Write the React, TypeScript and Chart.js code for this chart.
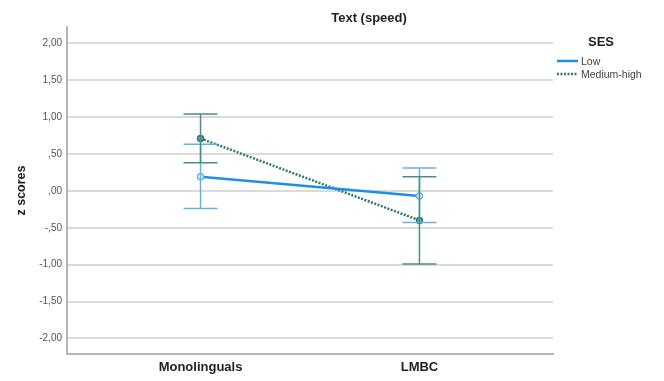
import React, { useEffect, useRef } from "react";
import { Chart, registerables } from "chart.js";

Chart.register(...registerables);

// Group means and 95% CI bounds (z scores)
const groups = ["Monolinguals", "LMBC"];
const groupPos = [1, 2];
const lowMean = [0.19, -0.07];
const lowUpper = [0.63, 0.31];
const lowLower = [-0.24, -0.43];
const highMean = [0.71, -0.4];
const highUpper = [1.04, 0.19];
const highLower = [0.38, -0.99];

const yTickValues = [2, 1.5, 1, 0.5, 0, -0.5, -1, -1.5, -2];
const yTickLabels = ["2,00", "1,50", "1,00", ",50", ",00", "-,50", "-1,00", "-1,50", "-2,00"];

const chartTitle = "Text (speed)";
const yTitle = "z scores";
const legendTitle = "SES";
const seriesNames = ["Low", "Medium-high"];

const LOW_COLOR = "#1f8fe6";
const LOW_BAR = "#63b3ea";
const HIGH_COLOR = "#2f7a6c";
const HIGH_BAR = "#4a8e84";

const FONT = "Arial, 'Liberation Sans', sans-serif";

const errorBarPlugin = {
  id: "errorBars",
  afterDatasetsDraw(chart: any) {
    const { ctx, scales } = chart;
    const xs = scales.x;
    const ys = scales.y;
    const sets = [
      { up: lowUpper, lo: lowLower, color: LOW_BAR },
      { up: highUpper, lo: highLower, color: HIGH_BAR },
    ];
    ctx.save();
    sets.forEach((s) => {
      ctx.strokeStyle = s.color;
      ctx.lineWidth = 1.5;
      groupPos.forEach((g, i) => {
        const x = xs.getPixelForValue(g);
        const yT = ys.getPixelForValue(s.up[i]);
        const yB = ys.getPixelForValue(s.lo[i]);
        ctx.beginPath();
        ctx.moveTo(x, yT);
        ctx.lineTo(x, yB);
        ctx.moveTo(x - 17, yT);
        ctx.lineTo(x + 17, yT);
        ctx.moveTo(x - 17, yB);
        ctx.lineTo(x + 17, yB);
        ctx.stroke();
      });
    });
    ctx.restore();
  },
};

const annotationPlugin = {
  id: "texts",
  afterDraw(chart: any) {
    const { ctx, chartArea } = chart;
    ctx.save();
    // chart title
    ctx.fillStyle = "#222";
    ctx.font = `bold 13px ${FONT}`;
    ctx.textAlign = "center";
    ctx.textBaseline = "middle";
    ctx.fillText(chartTitle, 369, 18);

    // y axis title
    ctx.save();
    ctx.translate(22, (chartArea.top + chartArea.bottom) / 2);
    ctx.rotate(-Math.PI / 2);
    ctx.font = `bold 12.5px ${FONT}`;
    ctx.fillText(yTitle, 0, 0);
    ctx.restore();

    // legend
    ctx.font = `bold 13px ${FONT}`;
    ctx.fillText(legendTitle, 601, 42);
    ctx.textAlign = "left";
    ctx.font = `10.5px ${FONT}`;
    ctx.fillStyle = "#444";
    const rows = [
      { y: 61, color: LOW_COLOR, dash: [] as number[], name: seriesNames[0] },
      { y: 74, color: HIGH_COLOR, dash: [2, 1.5], name: seriesNames[1] },
    ];
    rows.forEach((r) => {
      ctx.strokeStyle = r.color;
      ctx.lineWidth = 2.5;
      ctx.setLineDash(r.dash);
      ctx.beginPath();
      ctx.moveTo(557, r.y);
      ctx.lineTo(578, r.y);
      ctx.stroke();
      ctx.setLineDash([]);
      ctx.fillText(r.name, 581, r.y + 1);
    });
    ctx.restore();
  },
};

export default function App() {
  const ref = useRef<HTMLCanvasElement>(null);

  useEffect(() => {
    if (!ref.current) return;
    const chart = new Chart(ref.current, {
      type: "line",
      data: {
        datasets: [
          {
            label: seriesNames[0],
            data: groupPos.map((x, i) => ({ x, y: lowMean[i] })),
            borderColor: LOW_COLOR,
            borderWidth: 2.5,
            pointRadius: 3,
            pointBackgroundColor: "#ffffff",
            pointBorderColor: LOW_BAR,
            pointBorderWidth: 1.5,
          },
          {
            label: seriesNames[1],
            data: groupPos.map((x, i) => ({ x, y: highMean[i] })),
            borderColor: HIGH_COLOR,
            borderWidth: 2.5,
            borderDash: [2, 1.5],
            pointRadius: 3,
            pointBackgroundColor: "#6aa79c",
            pointBorderColor: HIGH_COLOR,
            pointBorderWidth: 1.5,
          },
        ],
      },
      options: {
        animation: false,
        responsive: false,
        layout: { padding: { left: 0, top: 27, right: 111, bottom: 0 } },
        plugins: {
          legend: { display: false },
          tooltip: { enabled: false },
        },
        scales: {
          x: {
            type: "linear",
            min: 0.39,
            max: 2.61,
            afterBuildTicks: (axis: any) => {
              axis.ticks = groupPos.map((v) => ({ value: v }));
            },
            afterFit: (axis: any) => {
              axis.height = 27;
            },
            ticks: {
              callback: (v: any) => groups[groupPos.indexOf(Number(v))] ?? "",
              color: "#222",
              font: { family: FONT, size: 13, weight: "bold" },
              padding: 6,
              maxRotation: 0,
            },
            grid: { display: false, drawTicks: false },
            border: { display: true, color: "#b4b4b4", width: 2 },
          },
          y: {
            type: "linear",
            min: -2.21,
            max: 2.22,
            afterBuildTicks: (axis: any) => {
              axis.ticks = yTickValues.map((v) => ({ value: v }));
            },
            afterFit: (axis: any) => {
              axis.width = 67;
            },
            ticks: {
              callback: (v: any) => yTickLabels[yTickValues.indexOf(Number(v))] ?? "",
              color: "#555",
              font: { family: FONT, size: 10 },
              padding: 5,
            },
            grid: { color: "#dadada", lineWidth: 2, drawTicks: false },
            border: { display: true, color: "#b4b4b4", width: 2 },
          },
        },
      },
      plugins: [errorBarPlugin, annotationPlugin],
    });
    return () => chart.destroy();
  }, []);

  return (
    <div style={{ position: "absolute", left: 0, top: 0, width: 664, height: 381, background: "#fff" }}>
      <canvas ref={ref} width={664} height={381} />
    </div>
  );
}
